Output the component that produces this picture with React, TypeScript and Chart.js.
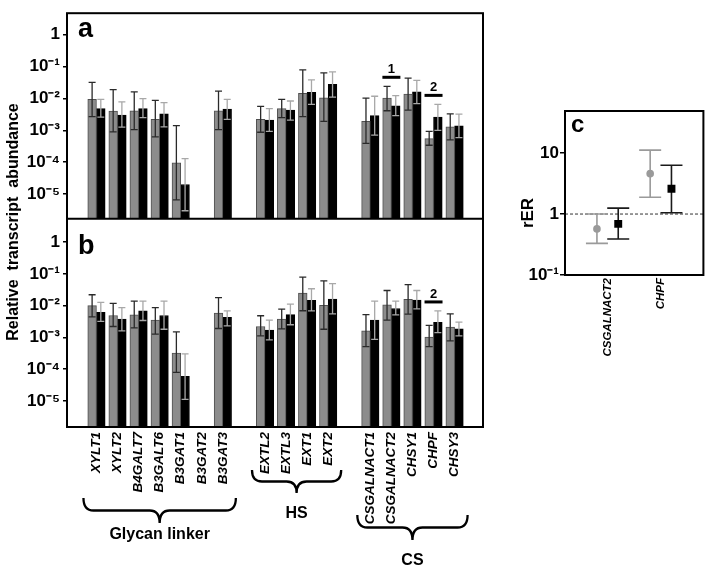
import React, { useEffect, useRef } from 'react';
import { Chart, registerables } from 'chart.js';
Chart.register(...registerables);

const FONT = "'Liberation Sans', Arial, sans-serif";

// ---------- panels a & b ----------
const genes = ['XYLT1', 'XYLT2', 'B4GALT7', 'B3GALT6', 'B3GAT1', 'B3GAT2', 'B3GAT3', '', 'EXTL2', 'EXTL3', 'EXT1', 'EXT2', '', 'CSGALNACT1', 'CSGALNACT2', 'CHSY1', 'CHPF', 'CHSY3'];

const aGray = [9.3e-3, 4.0e-3, 4.1e-3, 2.2e-3, 9.5e-5, null, 4.1e-3, null, 2.2e-3, 4.8e-3, 1.45e-2, 1.05e-2, null, 1.9e-3, 1.02e-2, 1.38e-2, 5.5e-4, 1.29e-3];
const aGrayLo = [2.7e-3, 8.9e-4, 1.05e-3, 6.2e-4, 6.6e-6, null, 1.05e-3, null, 8.7e-4, 2.5e-3, 2.7e-3, 1.9e-3, null, 3.9e-4, 4.1e-3, 4.3e-3, 3.4e-4, 5.0e-4];
const aGrayHi = [3.2e-2, 1.9e-2, 1.6e-2, 8.7e-3, 1.4e-3, null, 1.7e-2, null, 5.6e-3, 9.3e-3, 7.9e-2, 6.3e-2, null, 1.02e-2, 2.4e-2, 4.3e-2, 9.3e-4, 3.3e-3];
const aBlack = [4.8e-3, 3.0e-3, 4.8e-3, 3.3e-3, 2.0e-5, null, 4.6e-3, null, 2.1e-3, 4.3e-3, 1.55e-2, 2.75e-2, null, 2.9e-3, 5.9e-3, 1.6e-2, 2.6e-3, 1.38e-3];
const aBlackLo = [2.6e-3, 1.26e-3, 2.5e-3, 1.29e-3, 3.0e-6, null, 2.2e-3, null, 9.3e-4, 2.1e-3, 6.5e-3, 1.1e-2, null, 7.1e-4, 2.9e-3, 6.9e-3, 1.0e-3, 5.9e-4];
const aBlackHi = [9.3e-3, 7.8e-3, 9.8e-3, 7.4e-3, 1.3e-4, null, 9.3e-3, null, 4.8e-3, 8.3e-3, 3.8e-2, 6.8e-2, null, 1.17e-2, 1.23e-2, 3.7e-2, 6.5e-3, 3.2e-3];

const bGray = [1.0e-2, 4.9e-3, 5.1e-3, 3.5e-3, 3.2e-4, null, 5.8e-3, null, 2.2e-3, 3.8e-3, 2.5e-2, 1.02e-2, null, 1.6e-3, 1.05e-2, 1.58e-2, 1.02e-3, 2.1e-3];
const bGrayLo = [4.4e-3, 2.2e-3, 2.0e-3, 1.26e-3, 7.9e-5, null, 1.9e-3, null, 1.12e-3, 1.86e-3, 6.9e-3, 1.8e-3, null, 5.1e-4, 3.5e-3, 5.4e-3, 5.1e-4, 7.8e-4];
const bGrayHi = [2.2e-2, 1.17e-2, 1.38e-2, 8.7e-3, 1.5e-3, null, 1.78e-2, null, 4.8e-3, 7.8e-3, 7.9e-2, 6.0e-2, null, 5.2e-3, 3.0e-2, 4.6e-2, 2.4e-3, 5.5e-3];
const bBlack = [6.2e-3, 3.8e-3, 6.8e-3, 4.9e-3, 5.9e-5, null, 4.3e-3, null, 1.7e-3, 5.2e-3, 1.48e-2, 1.6e-2, null, 3.5e-3, 8.1e-3, 1.5e-2, 3.0e-3, 1.86e-3];
const bBlackLo = [3.2e-3, 1.6e-3, 3.4e-3, 1.8e-3, 1.12e-5, null, 2.3e-3, null, 8.3e-4, 2.5e-3, 6.8e-3, 5.5e-3, null, 8.7e-4, 5.1e-3, 7.9e-3, 1.41e-3, 1.12e-3];
const bBlackHi = [1.26e-2, 8.7e-3, 1.38e-2, 1.38e-2, 3.0e-4, null, 6.8e-3, null, 3.5e-3, 1.12e-2, 3.4e-2, 4.9e-2, null, 1.38e-2, 1.38e-2, 3.0e-2, 6.8e-3, 3.0e-3];

const yTicks = [1e-5, 1e-4, 1e-3, 1e-2, 1e-1, 1];

const sigPanels = ['a', 'a', 'b'];
const sigGenes = ['CSGALNACT2', 'CHPF', 'CHPF'];
const sigLabels = ['1', '2', '2'];

const groupNames = ['Glycan linker', 'HS', 'CS'];
const groupFirst = ['XYLT1', 'EXTL2', 'CSGALNACT1'];
const groupLast = ['B3GAT3', 'EXT2', 'CHSY3'];

// ---------- panel c ----------
const cGenes = ['CSGALNACT2', 'CHPF'];
const cGray = [0.57, 4.6];
const cGrayLo = [0.33, 1.88];
const cGrayHi = [1.0, 11.2];
const cBlack = [0.69, 2.6];
const cBlackLo = [0.39, 1.05];
const cBlackHi = [1.25, 6.3];
const cTicks = [0.1, 1, 10];

const SUP: Record<string, string> = { '-': '⁻', '0': '⁰', '1': '¹', '2': '²', '3': '³', '4': '⁴', '5': '⁵', '6': '⁶', '7': '⁷', '8': '⁸', '9': '⁹' };
function logLabel(v: number): string {
  const e = Math.round(Math.log10(v));
  if (e === 0) return '1';
  if (e === 1) return '10';
  return '10' + String(e).split('').map((c) => SUP[c]).join('');
}

function drawBrace(ctx: CanvasRenderingContext2D, x1: number, x2: number, yTop: number, yTip: number) {
  const xc = (x1 + x2) / 2;
  const ym = (yTop + yTip) / 2;
  const r = 10;
  ctx.beginPath();
  ctx.moveTo(x1, yTop);
  ctx.quadraticCurveTo(x1, ym, x1 + r, ym);
  ctx.lineTo(xc - r, ym);
  ctx.quadraticCurveTo(xc, ym, xc, yTip);
  ctx.moveTo(xc, yTip);
  ctx.quadraticCurveTo(xc, ym, xc + r, ym);
  ctx.lineTo(x2 - r, ym);
  ctx.quadraticCurveTo(x2, ym, x2, yTop);
  ctx.stroke();
}

const mainPlugin = {
  id: 'mainDecor',
  afterDatasetsDraw(chart: any) {
    const ctx = chart.ctx as CanvasRenderingContext2D;
    ctx.save();
    chart.data.datasets.forEach((ds: any, di: number) => {
      const meta = chart.getDatasetMeta(di);
      const ys = chart.scales[ds.yAxisID];
      ctx.strokeStyle = ds.errColor;
      ctx.lineWidth = 1.3;
      meta.data.forEach((el: any, j: number) => {
        const p = ds.data[j];
        const x = el.x;
        const yh = ys.getPixelForValue(p.hi);
        const yl = ys.getPixelForValue(p.lo);
        ctx.beginPath();
        ctx.moveTo(x, yh); ctx.lineTo(x, yl);
        ctx.moveTo(x - 3.5, yh); ctx.lineTo(x + 3.5, yh);
        ctx.moveTo(x - 3.5, yl); ctx.lineTo(x + 3.5, yl);
        ctx.stroke();
      });
    });
    ctx.restore();
  },
  afterDraw(chart: any) {
    const ctx = chart.ctx as CanvasRenderingContext2D;
    const ca = chart.chartArea;
    const { x: xs, ya, yb } = chart.scales;
    ctx.save();
    // frame
    ctx.strokeStyle = '#000';
    ctx.lineWidth = 2;
    ctx.strokeRect(ca.left, ca.top, ca.right - ca.left, ca.bottom - ca.top);
    ctx.beginPath();
    ctx.moveTo(ca.left, ya.bottom);
    ctx.lineTo(ca.right, ya.bottom);
    ctx.stroke();
    // panel letters
    ctx.fillStyle = '#000';
    ctx.font = `bold 27px ${FONT}`;
    ctx.textAlign = 'left';
    ctx.textBaseline = 'alphabetic';
    ctx.fillText('a', ca.left + 11, ya.top + 24);
    ctx.fillText('b', ca.left + 11, yb.top + 35);
    // y title
    ctx.save();
    ctx.translate(14, 222);
    ctx.rotate(-Math.PI / 2);
    ctx.font = `bold 16px ${FONT}`;
    ctx.textAlign = 'center';
    ctx.textBaseline = 'middle';
    ctx.fillText('Relative  transcript  abundance', 0, 0);
    ctx.restore();
    // significance marks
    sigPanels.forEach((pn, k) => {
      const idx = genes.indexOf(sigGenes[k]);
      const sc = pn === 'a' ? ya : yb;
      const hiG = pn === 'a' ? aGrayHi[idx] : bGrayHi[idx];
      const hiB = pn === 'a' ? aBlackHi[idx] : bBlackHi[idx];
      const x = xs.getPixelForValue(idx);
      const y = sc.getPixelForValue(Math.max(hiG as number, hiB as number)) - 9;
      ctx.lineWidth = 3;
      ctx.beginPath();
      ctx.moveTo(x - 9, y); ctx.lineTo(x + 9, y);
      ctx.stroke();
      ctx.font = `bold 13px ${FONT}`;
      ctx.textAlign = 'center';
      ctx.textBaseline = 'alphabetic';
      ctx.fillText(sigLabels[k], x, y - 4);
    });
    // braces and group names
    const braceTop = [498, 470, 515];
    const braceTip = [523, 493, 540];
    const textY = [535, 514, 561];
    ctx.lineWidth = 2.3;
    groupNames.forEach((name, g) => {
      const x1 = xs.getPixelForValue(genes.indexOf(groupFirst[g])) - 13;
      const x2 = xs.getPixelForValue(genes.indexOf(groupLast[g])) + 13;
      drawBrace(ctx, x1, x2, braceTop[g], braceTip[g]);
      ctx.font = `bold 16px ${FONT}`;
      ctx.textAlign = 'center';
      ctx.textBaseline = 'middle';
      ctx.fillText(name, (x1 + x2) / 2, textY[g]);
    });
    ctx.restore();
  },
};

function MainChart() {
  const ref = useRef<HTMLCanvasElement>(null);
  useEffect(() => {
    const pts = (v: any[], lo: any[], hi: any[]) =>
      genes.map((g, i) => ({ x: i, y: v[i], lo: lo[i], hi: hi[i] })).filter((p) => p.y != null);
    const gray = { backgroundColor: '#8c8c8c', borderColor: '#505050', borderWidth: 1, errColor: '#2a2a2a', stack: 'g', barThickness: 8.7 };
    const black = { backgroundColor: '#000', borderColor: '#000', borderWidth: 1, errColor: '#a8a8a8', stack: 'k', barThickness: 8.7 };
    const yScale = (weight: number, min: number, max: number) => ({
      type: 'logarithmic',
      position: 'left',
      stack: 'panels',
      stackWeight: weight,
      stacked: false,
      min,
      max,
      afterBuildTicks: (s: any) => { s.ticks = yTicks.map((v) => ({ value: v })); },
      afterFit: (s: any) => { s.width = 67; },
      ticks: { callback: (v: any) => logLabel(Number(v)), color: '#000', padding: 3, autoSkip: false, font: { family: FONT, size: 17, weight: 'bold' } },
      grid: { drawOnChartArea: false, color: '#000', tickLength: 4, lineWidth: 1.5 },
      border: { display: false },
    });
    const chart = new Chart(ref.current as HTMLCanvasElement, {
      type: 'bar',
      data: {
        datasets: [
          { label: 'a1', data: pts(aGray, aGrayLo, aGrayHi), yAxisID: 'ya', ...gray },
          { label: 'a2', data: pts(aBlack, aBlackLo, aBlackHi), yAxisID: 'ya', ...black },
          { label: 'b1', data: pts(bGray, bGrayLo, bGrayHi), yAxisID: 'yb', ...gray },
          { label: 'b2', data: pts(bBlack, bBlackLo, bBlackHi), yAxisID: 'yb', ...black },
        ] as any,
      },
      options: {
        animation: false,
        responsive: false,
        layout: { padding: { top: 2, right: 17, left: 0, bottom: 0 } },
        plugins: { legend: { display: false }, tooltip: { enabled: false } },
        scales: {
          x: {
            type: 'linear',
            position: 'bottom',
            min: -0.85,
            max: 17.8,
            bounds: 'data',
            afterBuildTicks: (s: any) => { s.ticks = genes.map((g, i) => ({ value: i })); },
            afterFit: (s: any) => { s.height = 141; },
            ticks: {
              autoSkip: false, minRotation: 90, maxRotation: 90, padding: 5, color: '#000',
              font: { family: FONT, size: 13.5, style: 'italic', weight: 'bold' },
              callback: (v: any) => genes[Number(v)] ?? '',
            },
            grid: { display: false, drawTicks: false },
            border: { display: false },
          },
          yb: yScale(214, 1.5e-6, 5.5),
          ya: yScale(211, 1.7e-6, 4.7),
        } as any,
      },
      plugins: [mainPlugin],
    });
    return () => chart.destroy();
  }, []);
  return <canvas ref={ref} width={500} height={568} style={{ position: 'absolute', left: 0, top: 0 }} />;
}

const cPlugin = {
  id: 'cDecor',
  beforeDatasetsDraw(chart: any) {
    const ctx = chart.ctx as CanvasRenderingContext2D;
    const ca = chart.chartArea;
    const ys = chart.scales.y;
    ctx.save();
    const y1 = ys.getPixelForValue(1);
    ctx.strokeStyle = '#333';
    ctx.lineWidth = 1;
    ctx.setLineDash([3, 2]);
    ctx.beginPath();
    ctx.moveTo(ca.left, y1); ctx.lineTo(ca.right, y1);
    ctx.stroke();
    ctx.setLineDash([]);
    chart.data.datasets.forEach((ds: any, di: number) => {
      const meta = chart.getDatasetMeta(di);
      ctx.strokeStyle = ds.errColor;
      ctx.lineWidth = 1.6;
      meta.data.forEach((el: any, j: number) => {
        const p = ds.data[j];
        const yh = ys.getPixelForValue(p.hi);
        const yl = ys.getPixelForValue(p.lo);
        const x = el.x;
        ctx.beginPath();
        ctx.moveTo(x, yh); ctx.lineTo(x, yl);
        ctx.moveTo(x - 11, yh); ctx.lineTo(x + 11, yh);
        ctx.moveTo(x - 11, yl); ctx.lineTo(x + 11, yl);
        ctx.stroke();
      });
    });
    ctx.restore();
  },
  afterDraw(chart: any) {
    const ctx = chart.ctx as CanvasRenderingContext2D;
    const ca = chart.chartArea;
    ctx.save();
    ctx.strokeStyle = '#000';
    ctx.lineWidth = 2;
    ctx.strokeRect(ca.left, ca.top, ca.right - ca.left, ca.bottom - ca.top);
    ctx.fillStyle = '#000';
    ctx.font = `bold 24px ${FONT}`;
    ctx.textAlign = 'left';
    ctx.textBaseline = 'alphabetic';
    ctx.fillText('c', ca.left + 6, ca.top + 21);
    ctx.save();
    ctx.translate(8, 213);
    ctx.rotate(-Math.PI / 2);
    ctx.font = `bold 17px ${FONT}`;
    ctx.textAlign = 'center';
    ctx.textBaseline = 'middle';
    ctx.fillText('rER', 0, 0);
    ctx.restore();
    ctx.restore();
  },
};

function PanelC() {
  const ref = useRef<HTMLCanvasElement>(null);
  useEffect(() => {
    const chart = new Chart(ref.current as HTMLCanvasElement, {
      type: 'scatter',
      data: {
        datasets: [
          {
            label: 'gray',
            data: cGenes.map((g, i) => ({ x: i - 0.2, y: cGray[i], lo: cGrayLo[i], hi: cGrayHi[i] })),
            pointStyle: 'circle', pointRadius: 3.8, backgroundColor: '#9a9a9a', borderColor: '#9a9a9a', borderWidth: 0,
            errColor: '#9a9a9a',
          },
          {
            label: 'black',
            data: cGenes.map((g, i) => ({ x: i + 0.2, y: cBlack[i], lo: cBlackLo[i], hi: cBlackHi[i] })),
            pointStyle: 'rect', pointRadius: 5.6, backgroundColor: '#000', borderColor: '#000', borderWidth: 0,
            errColor: '#1a1a1a',
          },
        ] as any,
      },
      options: {
        animation: false,
        responsive: false,
        layout: { padding: { top: 111, right: 1, left: 0, bottom: 0 } },
        plugins: { legend: { display: false }, tooltip: { enabled: false } },
        scales: {
          x: {
            type: 'linear', min: -0.8, max: 1.8, bounds: 'data',
            afterBuildTicks: (s: any) => { s.ticks = cGenes.map((g, i) => ({ value: i })); },
            afterFit: (s: any) => { s.height = 293; },
            ticks: {
              autoSkip: false, minRotation: 90, maxRotation: 90, padding: 3, color: '#000',
              font: { family: FONT, size: 11.5, style: 'italic', weight: 'bold' },
              callback: (v: any) => cGenes[Number(v)] ?? '',
            },
            grid: { display: false, drawTicks: false },
            border: { display: false },
          },
          y: {
            type: 'logarithmic', min: 0.1, max: 49, bounds: 'data',
            afterBuildTicks: (s: any) => { s.ticks = cTicks.map((v) => ({ value: v })); },
            afterFit: (s: any) => { s.width = 45; },
            ticks: { callback: (v: any) => logLabel(Number(v)), color: '#000', padding: 1, autoSkip: false, font: { family: FONT, size: 17, weight: 'bold' } },
            grid: { drawOnChartArea: false, color: '#000', tickLength: 5, lineWidth: 1.5 },
            border: { display: false },
          },
        } as any,
      },
      plugins: [cPlugin],
    });
    return () => chart.destroy();
  }, []);
  return <canvas ref={ref} width={189} height={568} style={{ position: 'absolute', left: 520, top: 0 }} />;
}

export default function App() {
  return (
    <div style={{ position: 'absolute', left: 0, top: 0, width: 709, height: 568, background: '#fff', overflow: 'hidden' }}>
      <MainChart />
      <PanelC />
    </div>
  );
}
